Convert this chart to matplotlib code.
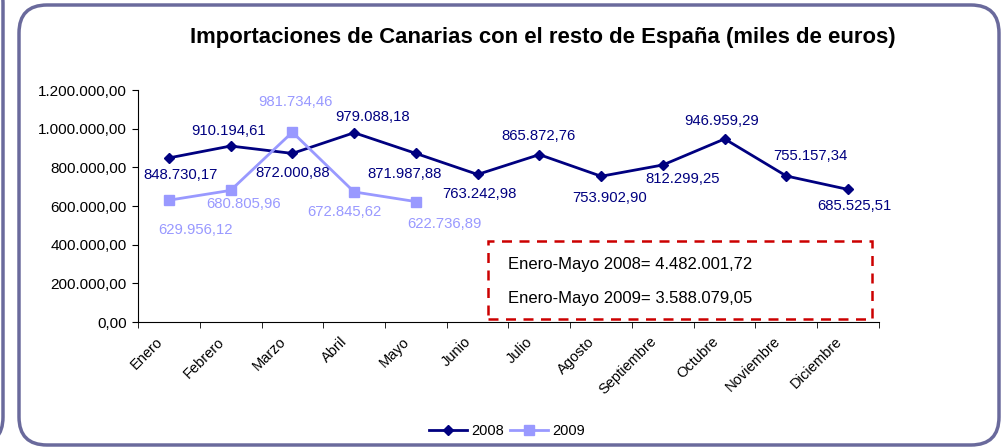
import matplotlib
matplotlib.use('Agg')
import matplotlib.pyplot as plt
from matplotlib.patches import FancyBboxPatch, Rectangle
from matplotlib.transforms import IdentityTransform
from matplotlib.ticker import FuncFormatter

plt.rcParams['font.family'] = ['Liberation Sans', 'DejaVu Sans']

months = ['Enero', 'Febrero', 'Marzo', 'Abril', 'Mayo', 'Junio', 'Julio', 'Agosto',
          'Septiembre', 'Octubre', 'Noviembre', 'Diciembre']
v2008 = [848730.17, 910194.61, 872000.88, 979088.18, 871987.88, 763242.98,
         865872.76, 753902.90, 812299.25, 946959.29, 755157.34, 685525.51]
v2009 = [629956.12, 680805.96, 981734.46, 672845.62, 622736.89]
# label offsets in pixels (dx, dy downwards)
off2008 = [(12, 17), (-2, -15), (0, 20), (18, -16), (-11, 21), (2, 20),
           (-1, -19), (9, 22), (20, 14), (-3, -18), (24, -20), (6, 17)]
off2009 = [(27, 30), (13, 14), (3, -30), (-10, 20), (29, 22)]

c08 = '#000080'
c09 = '#9999ff'
frame_c = '#6a6a9c'


def es_fmt(v, pos=None):
    s = f'{v:,.2f}'
    return s.replace(',', 'X').replace('.', ',').replace('X', '.')


W, H = 1003, 448
fig = plt.figure(figsize=(W / 100, H / 100), dpi=100)

# frames
fig.patches.append(FancyBboxPatch((19, 3), 980, 440, boxstyle='round,pad=0,rounding_size=28',
                                  transform=IdentityTransform(), fill=False,
                                  edgecolor=frame_c, linewidth=2.5))
fig.patches.append(FancyBboxPatch((-600, 3), 603, 470, boxstyle='round,pad=0,rounding_size=28',
                                  transform=IdentityTransform(), fill=False,
                                  edgecolor=frame_c, linewidth=2.5))

ax = fig.add_axes([138 / W, (H - 322) / H, 741 / W, 232 / H])
x08 = [i + 0.5 for i in range(len(v2008))]
x09 = [i + 0.5 for i in range(len(v2009))]
l1, = ax.plot(x08, v2008, color=c08, lw=2, marker='D', ms=5.5, label='2008')
l2, = ax.plot(x09, v2009, color=c09, lw=2, marker='s', ms=6.5, label='2009')

for x, v, (dx, dy) in zip(x08, v2008, off2008):
    ax.annotate(es_fmt(v), (x, v), xytext=(dx, -dy), textcoords='offset pixels',
                ha='center', va='center', color=c08, fontsize=10.7)
for x, v, (dx, dy) in zip(x09, v2009, off2009):
    ax.annotate(es_fmt(v), (x, v), xytext=(dx, -dy), textcoords='offset pixels',
                ha='center', va='center', color=c09, fontsize=10.7)

ax.set_xlim(0, 12)
ax.set_ylim(0, 1200000)
ax.set_yticks(range(0, 1200001, 200000))
ax.yaxis.set_major_formatter(FuncFormatter(es_fmt))
ax.set_xticks(range(13), minor=True)
# rotated labels sit a little left of the category centre
ax.set_xticks([x - 0.22 for x in x08])
ax.set_xticklabels(months, rotation=45, ha='right', rotation_mode='anchor', fontsize=10.5)
ax.tick_params(axis='x', which='major', length=0, pad=9)
ax.tick_params(axis='x', which='minor', length=4, direction='out', color='black')
ax.tick_params(axis='y', length=4, labelsize=11, pad=4)
for s in ['top', 'right']:
    ax.spines[s].set_visible(False)

fig.text(543 / W, 1 - 37 / H, 'Importaciones de Canarias con el resto de España (miles de euros)',
         ha='center', va='center', fontsize=15.9, fontweight='bold')

# dashed box with totals
fig.patches.append(Rectangle((488, H - 319), 384, 78, transform=IdentityTransform(),
                             fill=False, edgecolor='#cc0000', lw=1.8, ls=(0, (4, 3))))
fig.text(508 / W, 1 - 264 / H, 'Enero-Mayo 2008= 4.482.001,72', ha='left', va='center', fontsize=12)
fig.text(508 / W, 1 - 298 / H, 'Enero-Mayo 2009= 3.588.079,05', ha='left', va='center', fontsize=12)

fig.legend(handles=[l1, l2], loc='center', bbox_to_anchor=(507 / W, 1 - 431 / H), ncol=2,
           frameon=False, fontsize=10.5, handlelength=2.6, columnspacing=0.4, handletextpad=0.3)

fig.savefig('out.png', dpi=100)
